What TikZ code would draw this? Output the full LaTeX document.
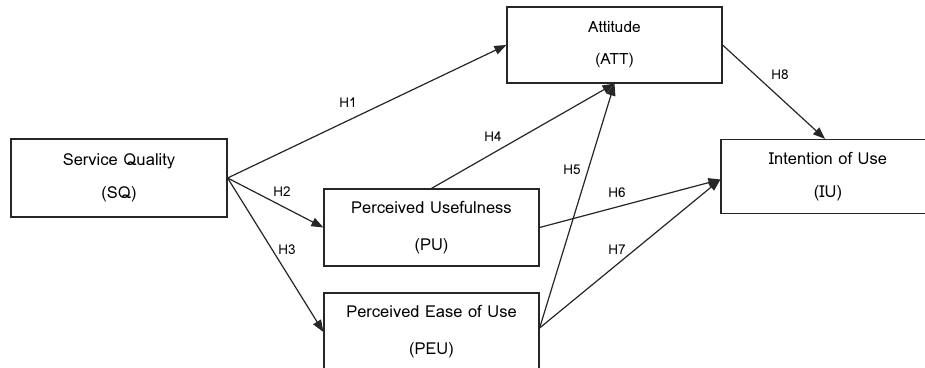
\documentclass[tikz,border=0pt]{standalone}
\usepackage{fontspec}
\newfontfamily\lomafont{Loma}
\usetikzlibrary{arrows.meta}
\begin{document}
\begin{tikzpicture}[x=1pt,y=-1pt,
  box/.style={draw=black!85,line width=1.2pt,rectangle,inner sep=0pt,font=\lomafont\fontsize{16.5}{33}\selectfont,align=center},
  arr/.style={draw=black!85,line width=1.2pt,-{Triangle[length=12pt,width=9pt]}},
  hlab/.style={font=\lomafont\fontsize{13.5}{15}\selectfont,inner sep=0pt}]
\useasboundingbox (0,0) rectangle (925,367);
\clip (0,0) rectangle (925,367);
\fill[white] (0,0) rectangle (925,367);
\node[box,minimum width=216pt,minimum height=78pt] (SQ) at (119,178) {Service Quality\\(SQ)};
\node[box,minimum width=215pt,minimum height=76pt,font=\lomafont\fontsize{15.5}{32}\selectfont] (ATT) at (614.5,45) {Attitude\\(ATT)};
\node[box,minimum width=214pt,minimum height=74pt] (IU) at (828,176.5) {Intention of Use\\(IU)};
\node[box,minimum width=215pt,minimum height=77pt,font=\lomafont\fontsize{16.5}{37}\selectfont] (PU) at (431.5,227.5) {Perceived Usefulness\\(PU)};
\node[box,minimum width=215pt,minimum height=78pt,font=\lomafont\fontsize{16.5}{37}\selectfont] (PEU) at (431.5,332) {Perceived Ease of Use\\(PEU)};
\coordinate (PEUo) at ([yshift=4pt]PEU.east);
\coordinate (IUin) at ([yshift=-3pt]IU.west);
\draw[arr] (SQ.east) -- (ATT.west);
\draw[arr] (SQ.east) -- (PU.west);
\draw[arr] (SQ.east) -- (PEU.west);
\draw[arr] (PU.north) -- (ATT.south);
\draw[arr] (PEUo) -- (ATT.south);
\draw[arr] (PU.east) -- (IUin);
\draw[arr] (PEUo) -- (IUin);
\draw[arr] (ATT.east) -- ([xshift=-3pt]IU.north);
\node[hlab] (h1) at (348,103) {H1};
\node[hlab] (h2) at (282,192) {H2};
\node[hlab] (h3) at (287,250) {H3};
\node[hlab] (h4) at (493,137) {H4};
\node[hlab] (h5) at (572,170) {H5};
\node[hlab] (h6) at (617,193) {H6};
\node[hlab] (h7) at (617,250) {H7};
\node[hlab] (h8) at (780,75) {H8};
\end{tikzpicture}
\end{document}
